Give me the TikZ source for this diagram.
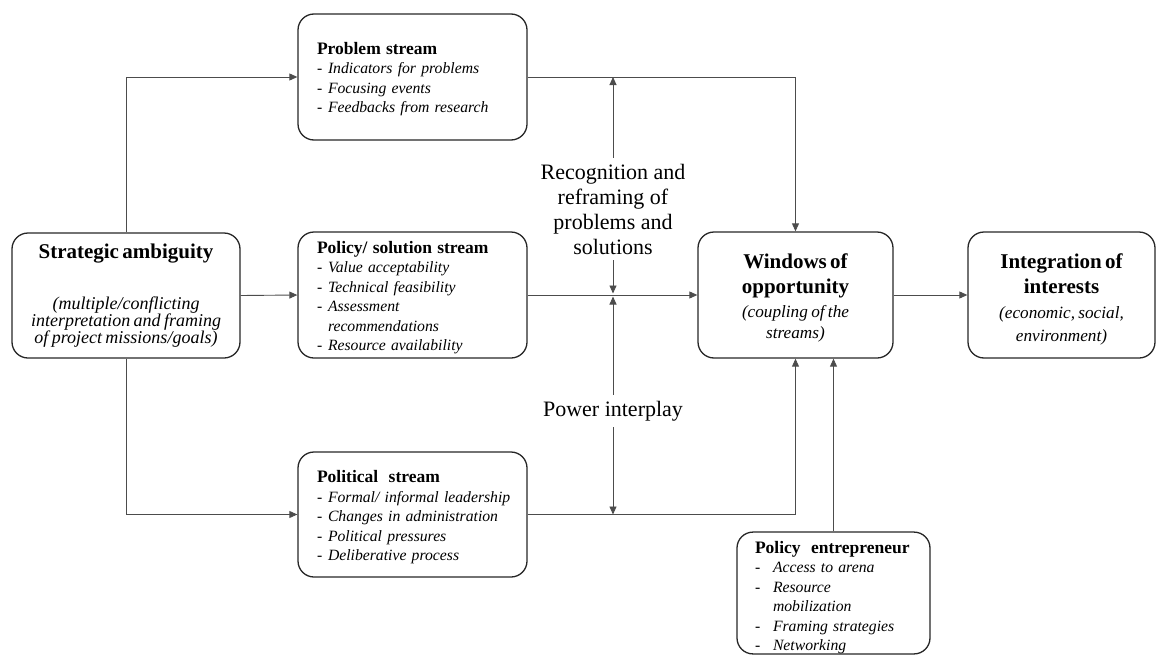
\documentclass[tikz,border=0pt]{standalone}
\usepackage{fontspec}
\setmainfont{Liberation Serif}
\usetikzlibrary{arrows.meta}

% list entries: a dash followed by an italic item
\newcommand\dashitem[1]{\mbox{\makebox[11pt][l]{-}\textit{#1}}}
\newcommand\dashgap{\hspace*{11pt}}
\newcommand\wideitem[1]{\mbox{\makebox[18pt][l]{-}\textit{#1}}}
\newcommand\widegap{\hspace*{18pt}}
% invisible strut that makes the first line taller, lowering a centred text block
\newcommand\topstrut[1]{\rule{0pt}{#1}}

\begin{document}
\begin{tikzpicture}[x=1pt,y=-1pt,
  box/.style={draw=black!85, line width=1.3pt, rounded corners=16pt, inner ysep=0pt},
  streambox/.style={box, minimum width=229pt, minimum height=126pt, inner xsep=19pt,
    text width=191pt, align=left, font=\fontsize{15.7}{19.5}\selectfont},
  bigbox/.style={box, minimum height=126pt, align=center},
  label/.style={align=center, inner sep=6pt, font=\fontsize{22}{25}\selectfont},
  conn/.style={draw=black!70, line width=0.9pt},
  arr/.style={conn, -{Triangle[length=8pt,width=7pt]}},
]
\useasboundingbox (0,0) rectangle (1157,656);

% left box
\node[bigbox, minimum width=228pt, inner xsep=9pt, text width=210pt, minimum height=125pt] (sa) at (126,295.5)
  {{\bfseries\fontsize{21}{25}\selectfont Strategic ambiguity\par}
   \vspace{32pt}
   {\itshape\fontsize{18}{17}\selectfont (multiple/conflicting\\ interpretation and framing\\ of project missions/goals)\par}};

% the three streams
\node[streambox] (prob) at (412.5,77)
  {\topstrut{16pt}\textbf{\fontsize{17.5}{19.5}\selectfont Problem stream}\\
   \dashitem{Indicators for problems}\\
   \dashitem{Focusing events}\\
   \dashitem{Feedbacks from research}};

\node[streambox] (sol) at (412.5,295)
  {\topstrut{17pt}\mbox{\textbf{\fontsize{17.5}{19.5}\selectfont Policy/ solution stream}}\\
   \dashitem{Value acceptability}\\
   \dashitem{Technical feasibility}\\
   \dashitem{Assessment}\\
   \dashgap\textit{recommendations}\\
   \dashitem{Resource availability}};

\node[streambox, minimum height=125pt] (pol) at (412.5,514.5)
  {\topstrut{18pt}\textbf{\fontsize{17.5}{19.5}\selectfont Political\ \ stream}\\
   \dashitem{Formal/ informal leadership}\\
   \dashitem{Changes in administration}\\
   \dashitem{Political pressures}\\
   \dashitem{Deliberative process}};

% windows and integration
\node[bigbox, minimum width=195pt, inner xsep=7.5pt, text width=180pt] (win) at (795.5,295)
  {{\bfseries\fontsize{21}{25}\selectfont\topstrut{21.5pt}Windows of\\ opportunity\par}
   \vspace{3pt}
   {\itshape\fontsize{17.2}{21}\selectfont (coupling of the\\ streams)\par}};

\node[bigbox, minimum width=187pt, inner xsep=6pt, text width=175pt] (int) at (1061.5,295)
  {{\bfseries\fontsize{21}{25}\selectfont\topstrut{23.5pt}Integration of\\ interests\par}
   \vspace{2pt}
   {\itshape\fontsize{17.2}{23}\selectfont (economic, social,\\ environment)\par}};

% policy entrepreneur
\node[box, minimum width=193pt, minimum height=120pt, inner xsep=18pt, text width=157pt,
      align=left, font=\fontsize{15.7}{19.5}\selectfont] (ent) at (833.5,593)
  {\topstrut{21pt}\mbox{\textbf{\fontsize{17.5}{19.5}\selectfont Policy\ \ entrepreneur}}\\
   \wideitem{Access to arena}\\
   \wideitem{Resource}\\
   \widegap\textit{mobilization}\\
   \wideitem{Framing strategies}\\
   \wideitem{Networking}};

% middle labels
\node[label] (rec) at (613,209) {Recognition and\\ reframing of\\ problems and\\ solutions};
\node[label] (pow) at (613,411) {Power interplay};

% connectors
\draw[arr] (sa.north) |- (prob.west);
\draw[arr] (sa.east) -- (sol.west);
\draw[arr] (sa.south) |- (pol.west);
\draw[arr] (prob.east) -| (win.north);
\draw[arr] (sol.east) -- (win.west);
\draw[arr] (pol.east) -| (win.south);
\draw[arr] (ent.north) -- (ent.north |- win.south);
\draw[arr] (win.east) -- (int.west);

\coordinate (top) at (rec.north |- prob.east);
\coordinate (mid) at (rec.south |- sol.east);
\coordinate (low) at (pow.south |- pol.east);
\draw[arr] (rec.north) -- (top);
\draw[arr] (rec.south) -- ([yshift=1.5pt]mid);
\draw[arr] (pow.north) -- ([yshift=-1.5pt]mid);
\draw[arr] (pow.south) -- (low);
\end{tikzpicture}
\end{document}
